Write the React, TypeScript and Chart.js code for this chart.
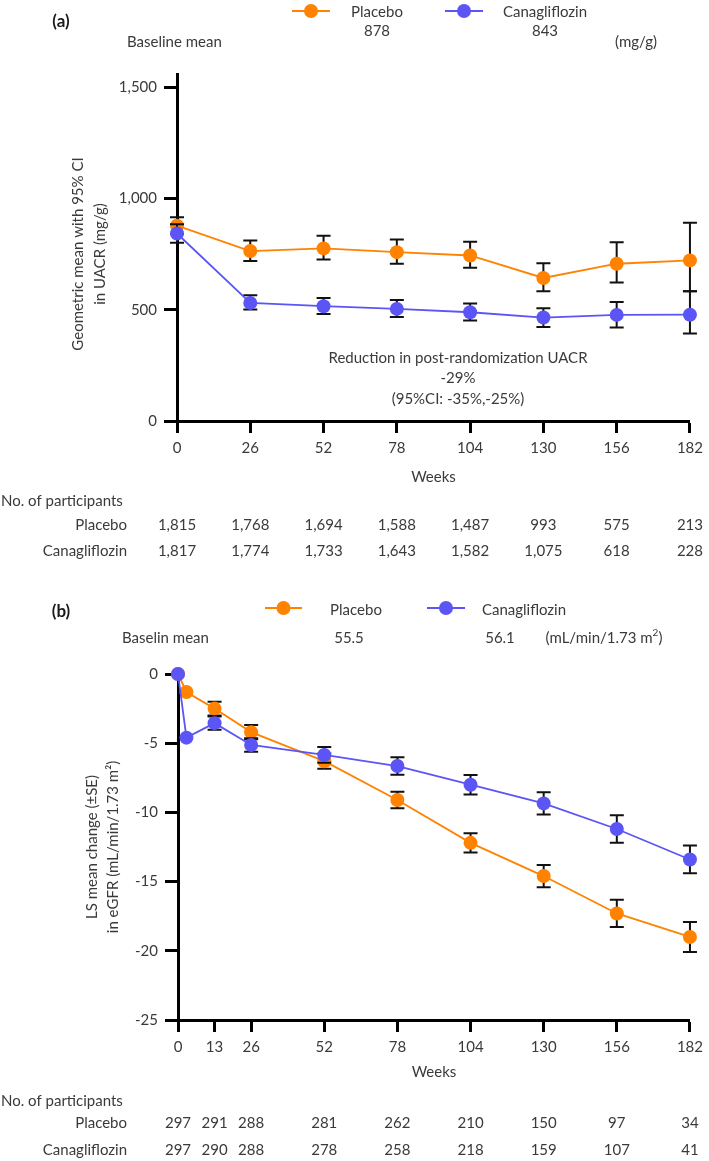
import React, { useEffect, useRef } from "react";
import { Chart, registerables } from "chart.js";

Chart.register(...registerables);

// ---------- Panel (a): UACR ----------
const weeksA = [0, 26, 52, 78, 104, 130, 156, 182];
const placeboUacr = [878, 764, 776, 759, 744, 643, 707, 722];
const placeboUacrLo = [841, 719, 726, 707, 689, 583, 623, 583];
const placeboUacrHi = [916, 812, 833, 816, 806, 709, 804, 891];
const canaUacr = [843, 531, 516, 504, 489, 465, 477, 478];
const canaUacrLo = [801, 501, 481, 468, 452, 423, 420, 393];
const canaUacrHi = [885, 565, 553, 544, 528, 507, 535, 583];
const uacrTicks = [0, 500, 1000, 1500];
const weekTicksA = [0, 26, 52, 78, 104, 130, 156, 182];
const nPlaceboA = ["1,815", "1,768", "1,694", "1,588", "1,487", "993", "575", "213"];
const nCanaA = ["1,817", "1,774", "1,733", "1,643", "1,582", "1,075", "618", "228"];

// ---------- Panel (b): eGFR ----------
const weeksB = [0, 3, 13, 26, 52, 78, 104, 130, 156, 182];
const placeboEgfr = [0, -1.3, -2.5, -4.2, -6.3, -9.1, -12.2, -14.6, -17.3, -19.0];
const placeboEgfrSe = [0, 0, 0.5, 0.52, 0.55, 0.6, 0.7, 0.8, 0.98, 1.08];
const canaEgfr = [0, -4.6, -3.55, -5.13, -5.85, -6.65, -8.0, -9.35, -11.2, -13.4];
const canaEgfrSe = [0, 0, 0.48, 0.48, 0.57, 0.63, 0.7, 0.8, 1.0, 1.0];
const egfrTicks = [-25, -20, -15, -10, -5, 0];
const weekTicksB = [0, 13, 26, 52, 78, 104, 130, 156, 182];
const nPlaceboB = ["297", "291", "288", "281", "262", "210", "150", "97", "34"];
const nCanaB = ["297", "290", "288", "278", "258", "218", "159", "107", "41"];

const FAMILY = "Lato, 'Open Sans', sans-serif";
const TEXT = "#3a3a3a";
const ORANGE = "#FF8200";
const PURPLE = "#5B55F6";
const FONT_SIZE = 15;

function txt(
  ctx: CanvasRenderingContext2D,
  s: string,
  x: number,
  y: number,
  align: CanvasTextAlign = "center",
  font = `${FONT_SIZE}px ${FAMILY}`,
  color = TEXT
) {
  ctx.font = font;
  ctx.fillStyle = color;
  ctx.textAlign = align;
  ctx.textBaseline = "middle";
  ctx.fillText(s, x, y);
}

function legendMark(ctx: CanvasRenderingContext2D, x1: number, x2: number, y: number, color: string) {
  ctx.save();
  ctx.strokeStyle = color;
  ctx.lineWidth = 2;
  ctx.beginPath();
  ctx.moveTo(x1, y);
  ctx.lineTo(x2, y);
  ctx.stroke();
  ctx.fillStyle = color;
  ctx.beginPath();
  ctx.arc((x1 + x2) / 2, y, 7, 0, Math.PI * 2);
  ctx.fill();
  ctx.restore();
}

function rotatedLines(ctx: CanvasRenderingContext2D, lines: string[], xs: number[], cy: number) {
  ctx.save();
  lines.forEach((l, i) => {
    ctx.save();
    ctx.translate(xs[i], cy);
    ctx.rotate(-Math.PI / 2);
    txt(ctx, l, 0, 0, "center");
    ctx.restore();
  });
  ctx.restore();
}

const errorBarPlugin = {
  id: "errorBars",
  beforeDatasetDraw(chart: any, args: any) {
    const ds: any = chart.data.datasets[args.index];
    if (!ds.errLo) return;
    const { ctx } = chart;
    const xs = chart.scales.x;
    const ys = chart.scales.y;
    ctx.save();
    ctx.strokeStyle = "#111";
    ctx.lineWidth = 2;
    ds.data.forEach((p: any, i: number) => {
      const x = xs.getPixelForValue(p.x);
      const y1 = ys.getPixelForValue(ds.errLo[i]);
      const y2 = ys.getPixelForValue(ds.errHi[i]);
      if (Math.abs(y1 - y2) < 0.5) return;
      ctx.beginPath();
      ctx.moveTo(x, y1);
      ctx.lineTo(x, y2);
      ctx.moveTo(x - 7, y1);
      ctx.lineTo(x + 7, y1);
      ctx.moveTo(x - 7, y2);
      ctx.lineTo(x + 7, y2);
      ctx.stroke();
    });
    ctx.restore();
  },
};

function extrasPlugin(draw: (chart: any) => void) {
  return {
    id: "extras",
    afterDraw(chart: any) {
      const ctx = chart.ctx as CanvasRenderingContext2D;
      ctx.save();
      draw(chart);
      ctx.restore();
    },
  };
}

function drawPanelA(chart: any) {
  const ctx = chart.ctx as CanvasRenderingContext2D;
  const xs = chart.scales.x;
  txt(ctx, "(a)", 61, 22, "center", `bold 17px ${FAMILY}`, "#1a1a1a");
  legendMark(ctx, 292, 330, 11, ORANGE);
  txt(ctx, "Placebo", 377, 12);
  txt(ctx, "878", 377, 31);
  legendMark(ctx, 445, 483, 11, PURPLE);
  txt(ctx, "Canagliflozin", 545, 12);
  txt(ctx, "843", 545, 31);
  txt(ctx, "Baseline mean", 127, 42, "left");
  txt(ctx, "(mg/g)", 636, 42);
  rotatedLines(ctx, ["Geometric mean with 95% CI", "in UACR (mg/g)"], [78, 100], 254);
  txt(ctx, "Reduction in post-randomization UACR", 458, 358);
  txt(ctx, "-29%", 458, 378);
  txt(ctx, "(95%CI: -35%,-25%)", 458, 399);
  txt(ctx, "Weeks", (chart.chartArea.left + chart.chartArea.right) / 2, 477);
  txt(ctx, "No. of participants", 1, 501, "left");
  txt(ctx, "Placebo", 127, 525, "right");
  txt(ctx, "Canagliflozin", 127, 551, "right");
  weekTicksA.forEach((w, i) => {
    const x = xs.getPixelForValue(w);
    txt(ctx, nPlaceboA[i], x, 525);
    txt(ctx, nCanaA[i], x, 551);
  });
}

function drawPanelB(chart: any) {
  const ctx = chart.ctx as CanvasRenderingContext2D;
  const xs = chart.scales.x;
  txt(ctx, "(b)", 61, 32, "center", `bold 17px ${FAMILY}`, "#1a1a1a");
  legendMark(ctx, 265, 302, 28, ORANGE);
  txt(ctx, "Placebo", 356, 30);
  legendMark(ctx, 427, 465, 28, PURPLE);
  txt(ctx, "Canagliflozin", 524, 30);
  txt(ctx, "Baselin mean", 122, 58, "left");
  txt(ctx, "55.5", 349, 58);
  txt(ctx, "56.1", 500, 58);
  // unit with superscript
  ctx.font = `${FONT_SIZE}px ${FAMILY}`;
  const a = "(mL/min/1.73 m";
  const wa = ctx.measureText(a).width;
  ctx.font = `10px ${FAMILY}`;
  const w2 = ctx.measureText("2").width;
  ctx.font = `${FONT_SIZE}px ${FAMILY}`;
  const wc = ctx.measureText(")").width;
  const start = 604 - (wa + w2 + wc) / 2;
  txt(ctx, a, start, 58, "left");
  txt(ctx, "2", start + wa, 53, "left", `10px ${FAMILY}`);
  txt(ctx, ")", start + wa + w2, 58, "left");
  rotatedLines(ctx, ["LS mean change (±SE)", "in eGFR (mL/min/1.73 m²)"], [92, 113], 267);
  txt(ctx, "Weeks", (chart.chartArea.left + chart.chartArea.right) / 2, 492);
  txt(ctx, "No. of participants", 1, 521, "left");
  txt(ctx, "Placebo", 127, 543, "right");
  txt(ctx, "Canagliflozin", 127, 570, "right");
  weekTicksB.forEach((w, i) => {
    const x = xs.getPixelForValue(w);
    txt(ctx, nPlaceboB[i], x, 543);
    txt(ctx, nCanaB[i], x, 570);
  });
}

const tickFont = { family: FAMILY, size: FONT_SIZE };

function axisBase(tickLength: number, padding: number) {
  return {
    grid: {
      display: true,
      drawOnChartArea: false,
      drawTicks: true,
      tickLength,
      tickWidth: 3,
      tickColor: "#000",
      color: "#000",
    },
    border: { display: true, width: 3, color: "#000" },
    ticks: { font: tickFont, color: TEXT, padding, autoSkip: false, maxRotation: 0 },
  };
}

function makeDataset(label: string, xsArr: number[], ys: number[], lo: number[], hi: number[], color: string, order: number) {
  return {
    label,
    data: xsArr.map((x, i) => ({ x, y: ys[i] })),
    borderColor: color,
    backgroundColor: color,
    borderWidth: 1.8,
    pointRadius: 7,
    pointHoverRadius: 7,
    pointBorderWidth: 0,
    pointBackgroundColor: color,
    tension: 0,
    clip: false,
    order,
    errLo: lo,
    errHi: hi,
  } as any;
}

export default function App() {
  const refA = useRef<HTMLCanvasElement>(null);
  const refB = useRef<HTMLCanvasElement>(null);

  useEffect(() => {
    const baseX = axisBase(12, 6);
    const baseY = axisBase(13, 7);
    const chartA = new Chart(refA.current!, {
      type: "line",
      data: {
        datasets: [
          makeDataset("Placebo", weeksA, placeboUacr, placeboUacrLo, placeboUacrHi, ORANGE, 1),
          makeDataset("Canagliflozin", weeksA, canaUacr, canaUacrLo, canaUacrHi, PURPLE, 0),
        ],
      },
      options: {
        responsive: false,
        maintainAspectRatio: false,
        animation: false,
        events: [],
        layout: { padding: { top: 74, left: 0, right: 16, bottom: 0 } },
        plugins: { legend: { display: false }, tooltip: { enabled: false } },
        scales: {
          x: {
            type: "linear",
            min: 0,
            max: 182,
            ...baseX,
            ticks: { ...baseX.ticks, callback: (v: any) => String(v) },
            afterBuildTicks: (s: any) => {
              s.ticks = weekTicksA.map((v) => ({ value: v }));
            },
            afterFit: (s: any) => {
              s.height = 159;
            },
          },
          y: {
            type: "linear",
            min: 0,
            max: 1560,
            ...baseY,
            ticks: { ...baseY.ticks, callback: (v: any) => Number(v).toLocaleString("en-US") },
            afterBuildTicks: (s: any) => {
              s.ticks = uacrTicks.map((v) => ({ value: v }));
            },
            afterFit: (s: any) => {
              s.width = 177;
            },
          },
        },
      } as any,
      plugins: [errorBarPlugin, extrasPlugin(drawPanelA)],
    });

    const chartB = new Chart(refB.current!, {
      type: "line",
      data: {
        datasets: [
          makeDataset(
            "Placebo",
            weeksB,
            placeboEgfr,
            placeboEgfr.map((v, i) => v - placeboEgfrSe[i]),
            placeboEgfr.map((v, i) => v + placeboEgfrSe[i]),
            ORANGE,
            1
          ),
          makeDataset(
            "Canagliflozin",
            weeksB,
            canaEgfr,
            canaEgfr.map((v, i) => v - canaEgfrSe[i]),
            canaEgfr.map((v, i) => v + canaEgfrSe[i]),
            PURPLE,
            0
          ),
        ],
      },
      options: {
        responsive: false,
        maintainAspectRatio: false,
        animation: false,
        events: [],
        layout: { padding: { top: 94, left: 0, right: 13, bottom: 0 } },
        plugins: { legend: { display: false }, tooltip: { enabled: false } },
        scales: {
          x: {
            type: "linear",
            min: 0,
            max: 182,
            ...baseX,
            ticks: { ...baseX.ticks, callback: (v: any) => String(v) },
            afterBuildTicks: (s: any) => {
              s.ticks = weekTicksB.map((v) => ({ value: v }));
            },
            afterFit: (s: any) => {
              s.height = 141;
            },
          },
          y: {
            type: "linear",
            min: -25,
            max: 0,
            ...baseY,
            ticks: { ...baseY.ticks, callback: (v: any) => String(v) },
            afterBuildTicks: (s: any) => {
              s.ticks = egfrTicks.map((v) => ({ value: v }));
            },
            afterFit: (s: any) => {
              s.width = 178;
            },
          },
        },
      } as any,
      plugins: [errorBarPlugin, extrasPlugin(drawPanelB)],
    });

    return () => {
      chartA.destroy();
      chartB.destroy();
    };
  }, []);

  return (
    <div style={{ position: "absolute", left: 0, top: 0, width: 709, height: 1161, background: "#fff" }}>
      <canvas ref={refA} width={709} height={580} style={{ position: "absolute", left: 0, top: 0 }} />
      <canvas ref={refB} width={709} height={581} style={{ position: "absolute", left: 0, top: 580 }} />
    </div>
  );
}
